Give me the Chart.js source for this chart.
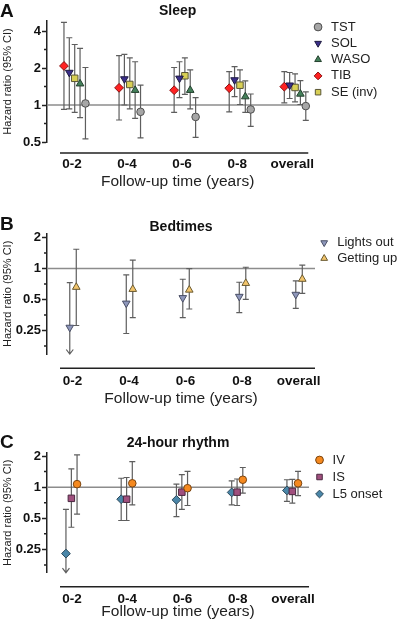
<!DOCTYPE html>
<html>
<head>
<meta charset="utf-8">
<script src="https://cdn.jsdelivr.net/npm/chart.js@4.4.1/dist/chart.umd.min.js"></script>
<style>
  body { margin: 0; background: #fff; }
  #wrap { position: relative; width: 400px; height: 624px; overflow: hidden; }
  canvas { position: absolute; left: 0; }
  .letter { position: absolute; left: 0; font: bold 19px 'Liberation Sans', Arial, sans-serif; line-height: 1; color: #111; }
</style>
</head>
<body>
<div id="wrap">
  <canvas id="chartA" width="400" height="200" style="top:0"></canvas>
  <canvas id="chartB" width="400" height="208" style="top:200px"></canvas>
  <canvas id="chartC" width="400" height="216" style="top:408px"></canvas>
  <div class="letter" style="top:1px">A</div>
  <div class="letter" style="top:214px">B</div>
  <div class="letter" style="top:432px">C</div>
</div>
<script>
const FONT = "'Liberation Sans', Arial, sans-serif";

// categorias do eixo x
const periods = ['0-2', '0-4', '0-6', '0-8', 'overall'];

// Painel A - sono (HR, IC inferior, IC superior)
const tstHR  = [1.03, 0.88, 0.80, 0.92, 0.98];
const tstLo  = [0.53, 0.54, 0.545, 0.67, 0.75];
const tstHi  = [2.02, 1.45, 1.15, 1.23, 1.28];
const solHR  = [1.84, 1.63, 1.65, 1.60, 1.45];
const solLo  = [0.93, 1.00, 1.15, 1.17, 1.13];
const solHi  = [3.53, 2.58, 2.25, 2.05, 1.84];
const wasoHR = [1.49, 1.32, 1.32, 1.17, 1.23];
const wasoLo = [0.79, 0.78, 0.93, 0.87, 1.01];
const wasoHi = [2.89, 2.25, 1.93, 1.57, 1.58];
const tibHR  = [2.08, 1.38, 1.32, 1.37, 1.41];
const tibLo  = [0.92, 0.755, 0.87, 0.88, 1.04];
const tibHi  = [4.71, 2.52, 2.02, 1.87, 1.87];
const seHR   = [1.65, 1.47, 1.73, 1.45, 1.39];
const seLo   = [0.87, 0.93, 1.22, 1.01, 1.06];
const seHi   = [3.11, 2.42, 2.42, 1.93, 1.79];

// Painel B - horários
const lightsHR = [0.268, 0.46, 0.52, 0.535, 0.56];
const lightsLo = [0.098, 0.234, 0.334, 0.374, 0.41];
const lightsHi = [0.73, 0.87, 0.787, 0.736, 0.758];
const gettingHR = [0.66, 0.63, 0.62, 0.72, 0.79];
const gettingLo = [0.28, 0.334, 0.405, 0.503, 0.575];
const gettingHi = [1.54, 1.21, 1.00, 1.03, 1.08];

// Painel C - ritmo 24h
const ivHR = [1.07, 1.09, 0.978, 1.18, 1.09];
const ivLo = [0.55, 0.674, 0.665, 0.875, 0.83];
const ivHi = [2.05, 1.77, 1.42, 1.55, 1.42];
const isHR = [0.78, 0.765, 0.895, 0.895, 0.91];
const isLo = [0.41, 0.476, 0.61, 0.665, 0.70];
const isHi = [1.50, 1.24, 1.32, 1.20, 1.19];
const l5HR = [0.228, 0.765, 0.754, 0.89, 0.93];
const l5Lo = [0.085, 0.476, 0.52, 0.674, 0.73];
const l5Hi = [0.61, 1.22, 1.07, 1.15, 1.18];

// ticks do eixo y
const ticksA = [0.5, 1, 2, 4];
const minorA = [0.707, 1.414, 2.83];
const ticksBC = [0.25, 0.5, 1, 2];
const minorBC = [0.177, 0.354, 0.707, 1.414];

// barras de erro, linha de referência, ticks menores e eixo x destacado
const forestPlugin = {
  id: 'forest',
  beforeDatasetsDraw(chart) {
    const {ctx, chartArea: a, scales: {y}} = chart;
    ctx.save();
    const y1 = y.getPixelForValue(1);
    ctx.strokeStyle = '#8c8c8c';
    ctx.lineWidth = 1.5;
    ctx.beginPath(); ctx.moveTo(a.left, y1); ctx.lineTo(a.right, y1); ctx.stroke();

    ctx.strokeStyle = '#5e5e5e';
    ctx.lineWidth = 1.2;
    chart.data.datasets.forEach((ds, d) => {
      chart.getDatasetMeta(d).data.forEach((pt, i) => {
        const top = y.getPixelForValue(ds.ciHi[i]);
        const cut = ds.ciLo[i] < y.min; // IC abaixo do eixo -> seta
        const bot = cut ? a.bottom : y.getPixelForValue(ds.ciLo[i]);
        ctx.beginPath();
        ctx.moveTo(pt.x, top); ctx.lineTo(pt.x, bot);
        ctx.moveTo(pt.x - 3, top); ctx.lineTo(pt.x + 3, top);
        if (cut) {
          ctx.moveTo(pt.x - 3.5, bot - 4.5); ctx.lineTo(pt.x, bot); ctx.lineTo(pt.x + 3.5, bot - 4.5);
        } else {
          ctx.moveTo(pt.x - 3, bot); ctx.lineTo(pt.x + 3, bot);
        }
        ctx.stroke();
      });
    });
    ctx.restore();
  },
  afterDraw(chart, args, opts) {
    const {ctx, chartArea: a, scales: {y}} = chart;
    ctx.save();
    ctx.strokeStyle = '#222';
    ctx.lineWidth = 1.5;
    ctx.beginPath();
    opts.minor.forEach(v => {
      const p = y.getPixelForValue(v);
      ctx.moveTo(a.left - 3, p); ctx.lineTo(a.left, p);
    });
    const yl = a.bottom + opts.gap;
    ctx.moveTo(a.left + 13, yl); ctx.lineTo(a.right, yl);
    ctx.stroke();
    ctx.restore();
  }
};

function forestChart(id, cfg) {
  return new Chart(document.getElementById(id), {
    type: 'scatter',
    data: {
      datasets: cfg.series.map(s => ({
        label: s.label,
        data: s.hr.map((v, i) => ({x: i + s.shift, y: v})),
        ciLo: s.lo,
        ciHi: s.hi,
        pointStyle: s.style,
        pointRotation: s.rot || 0,
        pointRadius: s.r,
        pointHoverRadius: s.r,
        pointBackgroundColor: s.fill,
        pointBorderColor: s.edge,
        backgroundColor: s.fill,
        borderColor: s.edge,
        pointBorderWidth: 1,
        showLine: false,
        clip: false
      }))
    },
    options: {
      responsive: false,
      animation: false,
      events: [],
      layout: { padding: { right: cfg.padRight } },
      scales: {
        x: {
          type: 'linear',
          min: -0.453,
          max: 4.29,
          bounds: 'data',
          afterBuildTicks: s => { s.ticks = periods.map((p, i) => ({value: i})); },
          afterFit: s => { s.height = cfg.xHeight; },
          grid: { display: false },
          border: { display: false },
          ticks: {
            callback: (v, i) => periods[i],
            autoSkip: false, maxRotation: 0,
            font: { family: FONT, size: 13.5, weight: 'bold' },
            color: '#111',
            padding: cfg.xPad
          },
          title: {
            display: true,
            text: 'Follow-up time (years)',
            font: { family: FONT, size: 15.5 },
            color: '#222',
            padding: { top: 0, bottom: cfg.xTitlePad }
          }
        },
        y: {
          type: 'logarithmic',
          min: cfg.min,
          max: cfg.max,
          bounds: 'data',
          afterBuildTicks: s => { s.ticks = cfg.major.map(v => ({value: v})); },
          afterFit: s => { s.width = 47; },
          grid: { drawOnChartArea: false, tickLength: 5, tickColor: '#222', tickWidth: 1.5 },
          border: { display: true, color: '#222', width: 1.5 },
          ticks: {
            callback: v => String(v),
            font: { family: FONT, size: 13, weight: 'bold' },
            color: '#111',
            padding: 1
          },
          title: {
            display: true,
            text: 'Hazard ratio (95% CI)',
            font: { family: FONT, size: 11 },
            color: '#222',
            padding: { top: 1, bottom: 0 }
          }
        }
      },
      plugins: {
        title: {
          display: true,
          text: cfg.title,
          fullSize: false,
          font: { family: FONT, size: 14, weight: 'bold', lineHeight: 1 },
          color: '#111',
          padding: { top: cfg.tTop, bottom: cfg.tBot }
        },
        legend: {
          position: 'right',
          align: 'start',
          maxWidth: 85,
          title: { display: true, text: '', font: { size: 1, lineHeight: 1 }, padding: { top: cfg.legTop, bottom: 0 } },
          labels: {
            usePointStyle: true,
            boxWidth: 13,
            boxHeight: 5.5,
            padding: cfg.legPad,
            font: { family: FONT, size: 13 },
            color: '#222'
          }
        },
        tooltip: { enabled: false },
        forest: { minor: cfg.minor, gap: cfg.gap }
      }
    },
    plugins: [forestPlugin]
  });
}

forestChart('chartA', {
  title: 'Sleep', min: 0.5, max: 4.83, major: ticksA, minor: minorA,
  tTop: 4, tBot: 3, xHeight: 58, xPad: 5.9, xTitlePad: 8.7, gap: 11,
  legTop: 16.2, legPad: 3.3, padRight: 12.7,
  series: [
    { label: 'TST', hr: tstHR, lo: tstLo, hi: tstHi, shift: 0.245, style: 'circle', r: 3.8, fill: '#a6a6a6', edge: '#4d4d4d' },
    { label: 'SOL', hr: solHR, lo: solLo, hi: solHi, shift: -0.048, style: 'triangle', rot: 180, r: 4.4, fill: '#3a2e8a', edge: '#1e1a40' },
    { label: 'WASO', hr: wasoHR, lo: wasoLo, hi: wasoHi, shift: 0.147, style: 'triangle', r: 4.4, fill: '#44805a', edge: '#24402e' },
    { label: 'TIB', hr: tibHR, lo: tibLo, hi: tibHi, shift: -0.145, style: 'rectRot', r: 4.4, fill: '#ff2222', edge: '#8a1010' },
    { label: 'SE (inv)', hr: seHR, lo: seLo, hi: seHi, shift: 0.05, style: 'rect', r: 4.6, fill: '#d8cf55', edge: '#5a5636' }
  ]
});

forestChart('chartB', {
  title: 'Bedtimes', min: 0.148, max: 2.18, major: ticksBC, minor: minorBC,
  tTop: 19.7, tBot: 0, xHeight: 54, xPad: 10.9, xTitlePad: 0, gap: 14.3,
  legTop: 32.5, legPad: 2.7, padRight: 0,
  series: [
    { label: 'Lights out', hr: lightsHR, lo: lightsLo, hi: lightsHi, shift: -0.05, style: 'triangle', rot: 180, r: 4.4, fill: '#8e97bb', edge: '#4a4f66' },
    { label: 'Getting up', hr: gettingHR, lo: gettingLo, hi: gettingHi, shift: 0.065, style: 'triangle', r: 4.4, fill: '#f3c56c', edge: '#6a5a30' }
  ]
});

forestChart('chartC', {
  title: '24-hour rhythm', min: 0.149, max: 2.14, major: ticksBC, minor: minorBC,
  tTop: 28, tBot: 3, xHeight: 51.3, xPad: 10.2, xTitlePad: 3, gap: 14,
  legTop: 40.5, legPad: 4, padRight: 7.6,
  series: [
    { label: 'IV', hr: ivHR, lo: ivLo, hi: ivHi, shift: 0.091, style: 'circle', r: 3.8, fill: '#f5891f', edge: '#7a4410' },
    { label: 'IS', hr: isHR, lo: isLo, hi: isHi, shift: -0.012, style: 'rect', r: 4.6, fill: '#a0507e', edge: '#4a2840' },
    { label: 'L5 onset', hr: l5HR, lo: l5Lo, hi: l5Hi, shift: -0.11, style: 'rectRot', r: 4.4, fill: '#4a86a8', edge: '#2d4a5c' }
  ]
});
</script>
</body>
</html>
